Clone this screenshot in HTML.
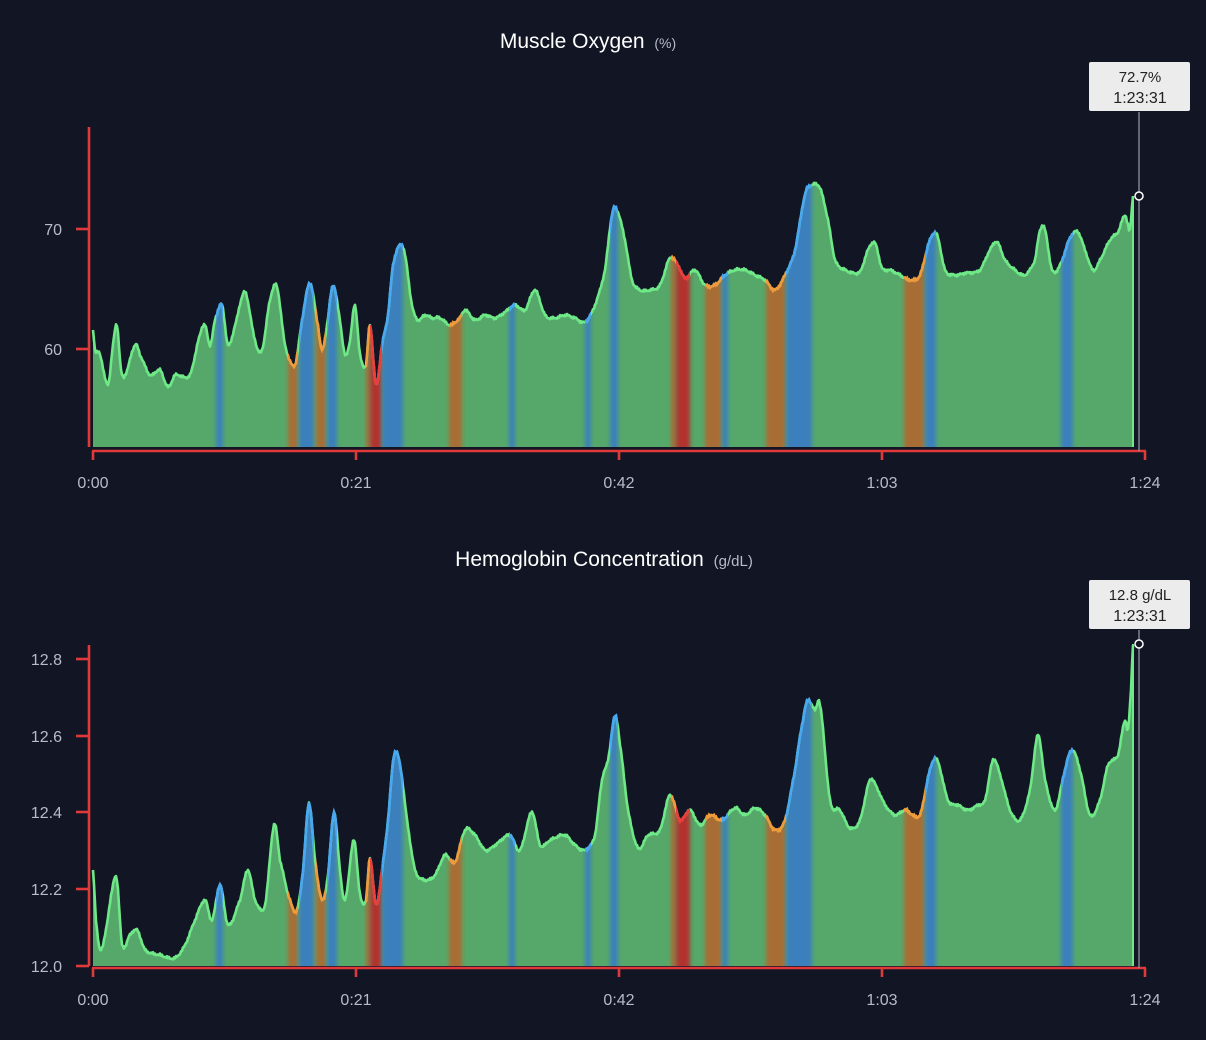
<!DOCTYPE html>
<html><head><meta charset="utf-8"><style>
html,body{margin:0;padding:0;background:#111524;width:1206px;height:1040px;overflow:hidden}
svg{display:block}
text{font-family:"Liberation Sans","DejaVu Sans",sans-serif}
</style></head><body>
<svg id="s" width="1206" height="1040" xmlns="http://www.w3.org/2000/svg">
<defs>
<filter id="bl" x="-50%" y="0" width="200%" height="100%"><feGaussianBlur stdDeviation="2,0"/></filter>
</defs>
<rect width="1206" height="1040" fill="#111524"/>
<text x="588" y="48" fill="#ffffff" font-size="21" font-weight="500" text-anchor="middle">Muscle Oxygen <tspan font-size="14" fill="#b8bcc8" dx="4">(%)</tspan></text>
<text x="604" y="566" fill="#ffffff" font-size="21" font-weight="500" text-anchor="middle">Hemoglobin Concentration <tspan font-size="15" fill="#b8bcc8" dx="4">(g/dL)</tspan></text>
<g id="c1"></g><g id="c2"></g>
</svg>
<script>
var NS="http://www.w3.org/2000/svg";
function el(p,n,a){var e=document.createElementNS(NS,n);for(var k in a)e.setAttribute(k,a[k]);p.appendChild(e);return e;}
var bands=[[216,223,'b'],[288,298,'o'],[299,314,'b'],[316,326,'o'],[327,337,'b'],[366,370,'o'],[370,382,'r'],[382,403,'b'],[449,462,'o'],[509,515,'b'],[585,591,'b'],[610,618,'b'],[671,676,'o'],[676,690,'r'],[705,722,'o'],[722,728,'b'],[766,786,'o'],[786,812,'b'],[904,925,'o'],[925,936,'b'],[1061,1073,'b']];
var FC={b:'#3b7fbd',o:'#a86d36',r:'#b3302f'},LC={b:'#4aa8f2',o:'#f09a3c',r:'#ee3b3b'};
var d1=[93,330,95,350,100,355,108,385,113,345,117,325,121,370,125,375,135,345,140,355,150,375,160,370,168,387,175,375,190,375,200,335,205,325,210,345,215,320,222,305,228,345,235,325,245,292,255,340,262,350,270,300,277,287,285,345,295,365,302,320,310,283,318,325,322,350,327,325,333,285,340,320,345,355,350,340,355,305,360,355,366,365,370,325,376,385,382,345,388,315,393,265,400,245,405,255,412,305,418,320,425,315,432,318,440,318,450,325,460,318,465,310,475,320,485,315,495,318,505,312,515,305,525,310,535,290,545,315,555,318,565,315,575,318,585,322,595,305,605,270,612,215,617,210,625,240,632,280,640,290,650,290,660,285,670,258,678,265,685,278,695,270,705,285,715,285,725,275,735,270,745,270,755,275,765,280,775,290,785,275,795,250,805,195,812,185,820,188,828,220,835,260,845,270,860,272,868,250,875,243,882,268,890,270,900,275,910,280,920,275,930,240,937,235,945,270,955,275,965,273,980,270,990,250,997,242,1005,260,1015,270,1025,275,1035,260,1040,230,1045,230,1052,270,1060,265,1070,238,1078,232,1085,250,1093,270,1100,260,1110,240,1118,232,1125,215,1128,225,1130,230,1133,196];
var d2=[93,870,96,920,100,950,106,930,112,890,117,880,122,945,130,935,137,930,145,950,160,955,175,958,185,945,195,920,205,900,212,920,220,885,228,925,240,900,248,870,255,900,265,905,274,825,280,860,290,900,297,910,303,870,309,803,315,860,322,900,328,875,334,812,340,870,345,900,354,840,360,895,366,900,370,858,376,905,382,870,388,820,394,755,400,765,407,820,415,870,425,880,435,875,445,855,455,862,465,830,475,835,485,850,495,845,510,835,520,850,532,812,540,845,550,840,565,835,575,845,585,850,595,835,602,780,608,760,615,716,620,745,628,810,638,848,648,835,660,830,670,795,680,820,690,810,700,825,710,815,722,820,735,808,745,815,755,808,765,815,775,830,785,820,795,770,803,720,808,700,815,710,820,705,830,800,840,810,850,828,860,820,870,780,878,790,885,805,895,815,905,810,920,815,930,770,937,760,948,800,958,805,968,810,978,805,985,800,993,760,1000,775,1010,810,1020,820,1030,790,1038,735,1045,780,1055,810,1065,770,1072,750,1080,770,1090,815,1100,800,1108,765,1118,755,1125,720,1128,730,1131,690,1133,645];
function curve(d){var P=[];for(var i=0;i<d.length;i+=2)P.push([d[i],d[i+1]]);var out=[];
for(var i=0;i<P.length-1;i++){var p0=P[Math.max(0,i-1)],p1=P[i],p2=P[i+1],p3=P[Math.min(P.length-1,i+2)];
var n=Math.max(2,Math.round(p2[0]-p1[0]));for(var j=0;j<n;j++){var t=j/n,t2=t*t,t3=t2*t;
var y=0.5*((2*p1[1])+(-p0[1]+p2[1])*t+(2*p0[1]-5*p1[1]+4*p2[1]-p3[1])*t2+(-p0[1]+3*p1[1]-3*p2[1]+p3[1])*t3);
var x=p1[0]+(p2[0]-p1[0])*t;out.push([x,y]);}}
out.push(P[P.length-1]);return out;}
function draw(g,d,id,top,bottom,yt,ax,tip,tipy,cy){
var pts=curve(d),line='';
pts.forEach(function(p,i){var x=p[0],y=p[1]+Math.sin(i*2.7)*0.9+Math.sin(i*7.1)*0.6;line+=(i?'L':'M')+x.toFixed(1)+','+y.toFixed(1);});
var area=line+'L1133,'+bottom+'L93,'+bottom+'Z';
var defs=el(g,'defs',{});var cp=el(defs,'clipPath',{id:'a'+id});el(cp,'path',{d:area});
el(g,'path',{d:area,fill:'#56a86a'});
var bg=el(g,'g',{'clip-path':'url(#a'+id+')'});
bands.forEach(function(b){el(bg,'rect',{x:b[0],y:top,width:b[1]-b[0],height:bottom-top,fill:FC[b[2]],filter:'url(#bl)'});});
el(g,'path',{d:line,fill:'none',stroke:'#6fe888','stroke-width':2.6,'stroke-linejoin':'round'});
bands.forEach(function(b,i){var c=el(defs,'clipPath',{id:'l'+id+i});el(c,'rect',{x:b[0],y:0,width:b[1]-b[0],height:1040});
el(g,'path',{d:line,fill:'none',stroke:LC[b[2]],'stroke-width':2.6,'clip-path':'url(#l'+id+i+')'});});
el(g,'line',{x1:1133,y1:cy,x2:1133,y2:bottom,stroke:'#6fe888','stroke-width':2});
el(g,'line',{x1:89,y1:top,x2:89,y2:bottom,stroke:'#e0393a','stroke-width':2.6});
el(g,'line',{x1:92,y1:ax,x2:1146,y2:ax,stroke:'#e0393a','stroke-width':2.6});
[93,356,619,882,1145].forEach(function(x,i){el(g,'line',{x1:x,y1:ax,x2:x,y2:ax+9,stroke:'#e0393a','stroke-width':2.6});
var t=el(g,'text',{x:x,y:ax+37,fill:'#b8bcc8','font-size':16,'text-anchor':'middle'});t.textContent=['0:00','0:21','0:42','1:03','1:24'][i];});
yt.forEach(function(v){el(g,'line',{x1:76,y1:v[0],x2:89,y2:v[0],stroke:'#e0393a','stroke-width':2.6});
var t=el(g,'text',{x:62,y:v[0]+6,fill:'#b8bcc8','font-size':16,'text-anchor':'end'});t.textContent=v[1];});
el(g,'line',{x1:1139,y1:tipy+50,x2:1139,y2:ax,stroke:'#9a9ea8','stroke-width':1.2});
el(g,'rect',{x:1089,y:tipy,width:101,height:49,rx:2,fill:'#ececec'});
var t1=el(g,'text',{x:1140,y:tipy+20,fill:'#222','font-size':15,'text-anchor':'middle'});t1.textContent=tip;
var t2=el(g,'text',{x:1140,y:tipy+41,fill:'#222','font-size':16,'text-anchor':'middle'});t2.textContent='1:23:31';
el(g,'circle',{cx:1139,cy:cy,r:4,fill:'#111524',stroke:'#fff','stroke-width':1.5});
}
draw(document.getElementById('c1'),d1,1,127,447,[[229,'70'],[349,'60']],451,'72.7%',62,196);
draw(document.getElementById('c2'),d2,2,645,966,[[659,'12.8'],[736,'12.6'],[812,'12.4'],[889,'12.2'],[966,'12.0']],968,'12.8 g/dL',580,644);
</script>
</body></html>
